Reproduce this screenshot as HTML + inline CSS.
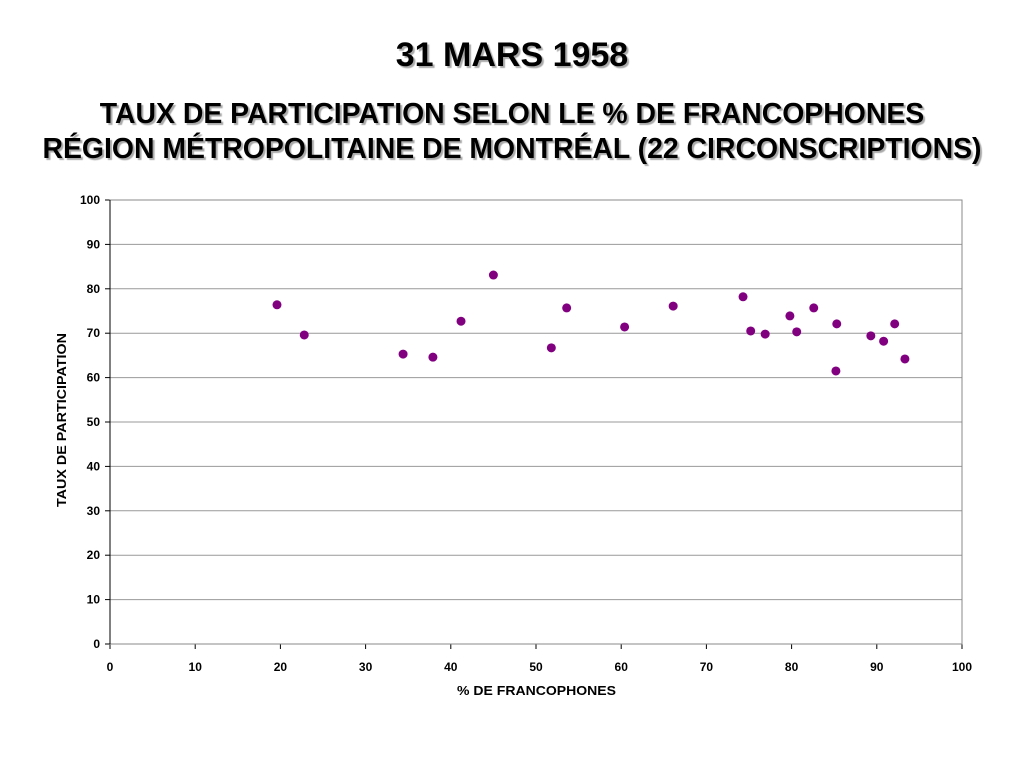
<!DOCTYPE html>
<html><head><meta charset="utf-8"><style>
body{margin:0;width:1024px;height:768px;background:#fff;font-family:"Liberation Sans",Arial,sans-serif;overflow:hidden}
.t{position:absolute;left:0;width:1024px;text-align:center;font-weight:bold;color:#000;text-shadow:2px 2px 1px #aaa;white-space:nowrap}
</style></head><body>
<div class="t" style="top:36px;font-size:34px">31 MARS 1958</div>
<div class="t" style="top:97px;font-size:28.4px;line-height:35px;letter-spacing:0px">TAUX DE PARTICIPATION SELON LE % DE FRANCOPHONES<br>RÉGION MÉTROPOLITAINE DE MONTRÉAL (22 CIRCONSCRIPTIONS)</div>
<svg id="c" width="1024" height="768" style="position:absolute;left:0;top:0" font-family="Liberation Sans, Arial, sans-serif"></svg>
<script>
const xs=[19.6,22.8,34.4,37.9,41.2,45.0,51.8,53.6,60.4,66.1,74.3,75.2,76.9,79.8,80.6,82.6,85.3,85.2,89.3,90.8,92.1,93.3];
const ys=[76.4,69.6,65.3,64.6,72.7,83.1,66.7,75.7,71.4,76.1,78.2,70.5,69.8,73.9,70.3,75.7,72.1,61.5,69.4,68.2,72.1,64.2];
const xTicks=[0,10,20,30,40,50,60,70,80,90,100];
const yTicks=[0,10,20,30,40,50,60,70,80,90,100];
const L=110,R=962,T=200,B=644;
const sx=v=>L+(R-L)*v/100, sy=v=>B-(B-T)*v/100;
const svg=document.getElementById('c');const NS='http://www.w3.org/2000/svg';
function mk(t,a,p){const e=document.createElementNS(NS,t);for(const k in a)e.setAttribute(k,a[k]);(p||svg).appendChild(e);return e;}
for(const v of yTicks){
 const g=mk('line',{x1:L,x2:R,y1:sy(v),y2:sy(v),stroke:v==0?'#000':'#999','stroke-width':1});
 
 
 mk('line',{x1:L-5,x2:L,y1:sy(v),y2:sy(v),stroke:'#000'});
 const t=mk('text',{x:L-10,y:sy(v)+4,'text-anchor':'end','font-size':12,'font-weight':'bold'});t.textContent=v;
 
 
}
for(const v of xTicks){
 mk('line',{x1:sx(v),x2:sx(v),y1:B,y2:B+5,stroke:'#000'});
 const t=mk('text',{x:sx(v),y:B+27,'text-anchor':'middle','font-size':12,'font-weight':'bold'});t.textContent=v;
 
 
}
const fr=mk('rect',{x:L,y:T,width:R-L,height:B-T,fill:'none',stroke:'#888'});


mk('line',{x1:L,x2:L,y1:T,y2:B,stroke:'#000'});
xs.forEach((x,i)=>{const c=mk('circle',{cx:sx(x),cy:sy(ys[i]),r:4.5,fill:'#800080'});
 
 });
const xt=mk('text',{x:457,y:695,'font-size':13,'font-weight':'bold',textLength:159,lengthAdjust:'spacingAndGlyphs'});xt.textContent='% DE FRANCOPHONES';


const yt=mk('text',{x:0,y:0,'font-size':13,'font-weight':'bold',textLength:174,lengthAdjust:'spacingAndGlyphs',transform:'translate(66,507) rotate(-90)'});yt.textContent='TAUX DE PARTICIPATION';


</script>
</body></html>
